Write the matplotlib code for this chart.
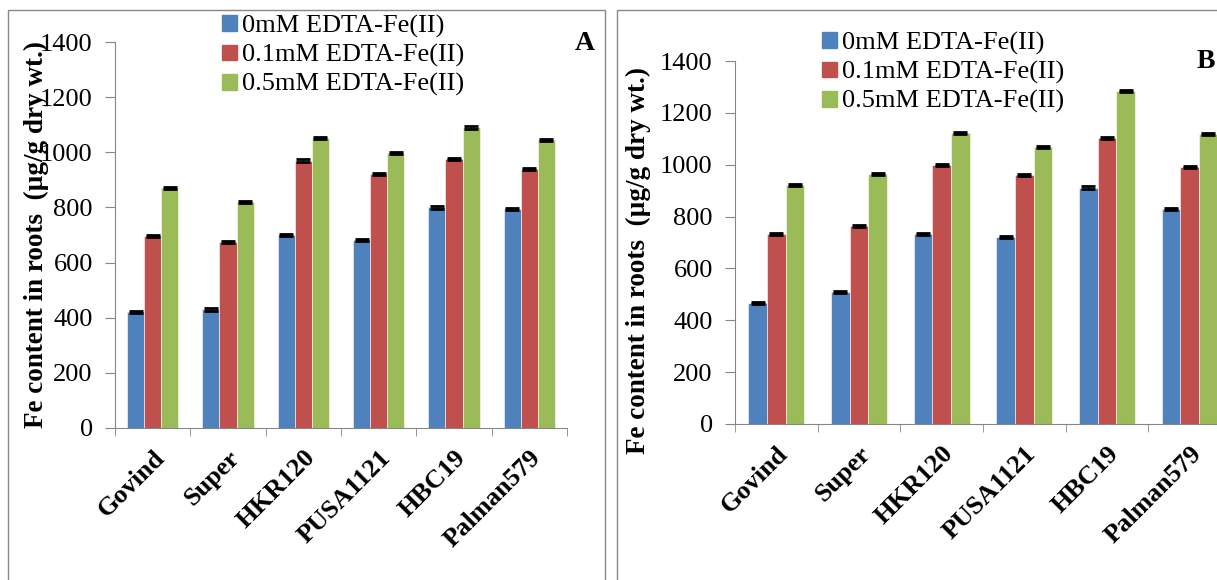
import matplotlib.pyplot as plt
import matplotlib.patches as mpatches
import numpy as np

plt.rcParams['font.family'] = ['Liberation Serif', 'DejaVu Serif']

cultivars = ['Govind', 'Super', 'HKR120', 'PUSA1121', 'HBC19', 'Palman579']
labels = ['0mM EDTA-Fe(II)', '0.1mM EDTA-Fe(II)', '0.5mM EDTA-Fe(II)']
colors = ['#4F81BD', '#C0504D', '#9BBB59']

# panel A
a_0 = [420, 430, 700, 683, 800, 795]
a_01 = [695, 675, 970, 922, 975, 940]
a_05 = [870, 820, 1052, 997, 1090, 1045]
# panel B
b_0 = [465, 510, 733, 720, 912, 828]
b_01 = [733, 762, 1000, 960, 1102, 990]
b_05 = [920, 963, 1122, 1070, 1285, 1120]
err = 4

W, H = 1217, 580
fig = plt.figure(figsize=(W / 100, H / 100), dpi=100)


def px(x0, y0, x1, y1):
    # pixel box (top-left origin) -> figure fraction
    return [x0 / W, 1 - y1 / H, (x1 - x0) / W, (y1 - y0) / H]


def panel(rect, series, tag, tag_xy, leg_xy, ylab_xy):
    ax = fig.add_axes(rect)
    x = np.arange(len(cultivars))
    w = 0.227
    for k, vals in enumerate(series):
        pos = x + (k - 1) * w
        ax.bar(pos, vals, w, color=colors[k], edgecolor='white', linewidth=0.4,
               label=labels[k], zorder=2)
        ax.errorbar(pos, vals, yerr=err, fmt='none', ecolor='black',
                    capsize=5, capthick=2, elinewidth=1, zorder=3)
    ax.set_xlim(-0.5, len(cultivars) - 0.5)
    ax.set_ylim(0, 1400)
    ax.set_yticks(range(0, 1401, 200))
    ax.set_xticks(x)
    ax.set_xticklabels(cultivars, rotation=45, ha='right', rotation_mode='anchor',
                       fontsize=19, fontweight='bold')
    ax.set_xticks(np.arange(-0.5, len(cultivars) + 0.5, 1), minor=True)
    ax.tick_params(axis='x', which='major', length=0, pad=13)
    ax.tick_params(axis='x', which='minor', length=6, color='#868686', direction='out')
    ax.tick_params(axis='y', length=7, color='#868686', labelsize=19, pad=9)
    for s in ['top', 'right']:
        ax.spines[s].set_visible(False)
    for s in ['left', 'bottom']:
        ax.spines[s].set_color('#868686')
    ax.set_ylabel('Fe content in roots  (µg/g dry wt.)', fontsize=19.5,
                  fontweight='bold')
    ax.yaxis.set_label_coords(*ylab_xy)
    ax.patch.set_alpha(0)
    fig.text(tag_xy[0] / W, 1 - tag_xy[1] / H, tag, fontsize=20, fontweight='bold',
             ha='center', va='center')
    handles = [mpatches.Patch(color=c) for c in colors]
    fig.legend(handles, labels, loc='upper left',
               bbox_to_anchor=(leg_xy[0] / W, 1 - leg_xy[1] / H),
               frameon=False, fontsize=19, handlelength=0.55, handleheight=0.55,
               handletextpad=0.2, labelspacing=0.23, borderpad=0, borderaxespad=0)
    return ax


# panel frames
fig.patches.append(mpatches.Rectangle((8 / W, -0.1), 597 / W, 1 - 10 / H + 0.1,
                                      transform=fig.transFigure, fill=False,
                                      edgecolor='#888888', linewidth=1))
fig.patches.append(mpatches.Rectangle((617 / W, -0.1), 700 / W, 1 - 10 / H + 0.1,
                                      transform=fig.transFigure, fill=False,
                                      edgecolor='#888888', linewidth=1))

panel(px(115, 42, 567, 428), [a_0, a_01, a_05], 'A', (585, 43), (222, 15),
      (-0.147, 0.5))
panel(px(735, 61, 1231, 424), [b_0, b_01, b_05], 'B', (1206, 62), (822, 32),
      (-0.17, 0.45))

fig.savefig('out.png', dpi=100)
